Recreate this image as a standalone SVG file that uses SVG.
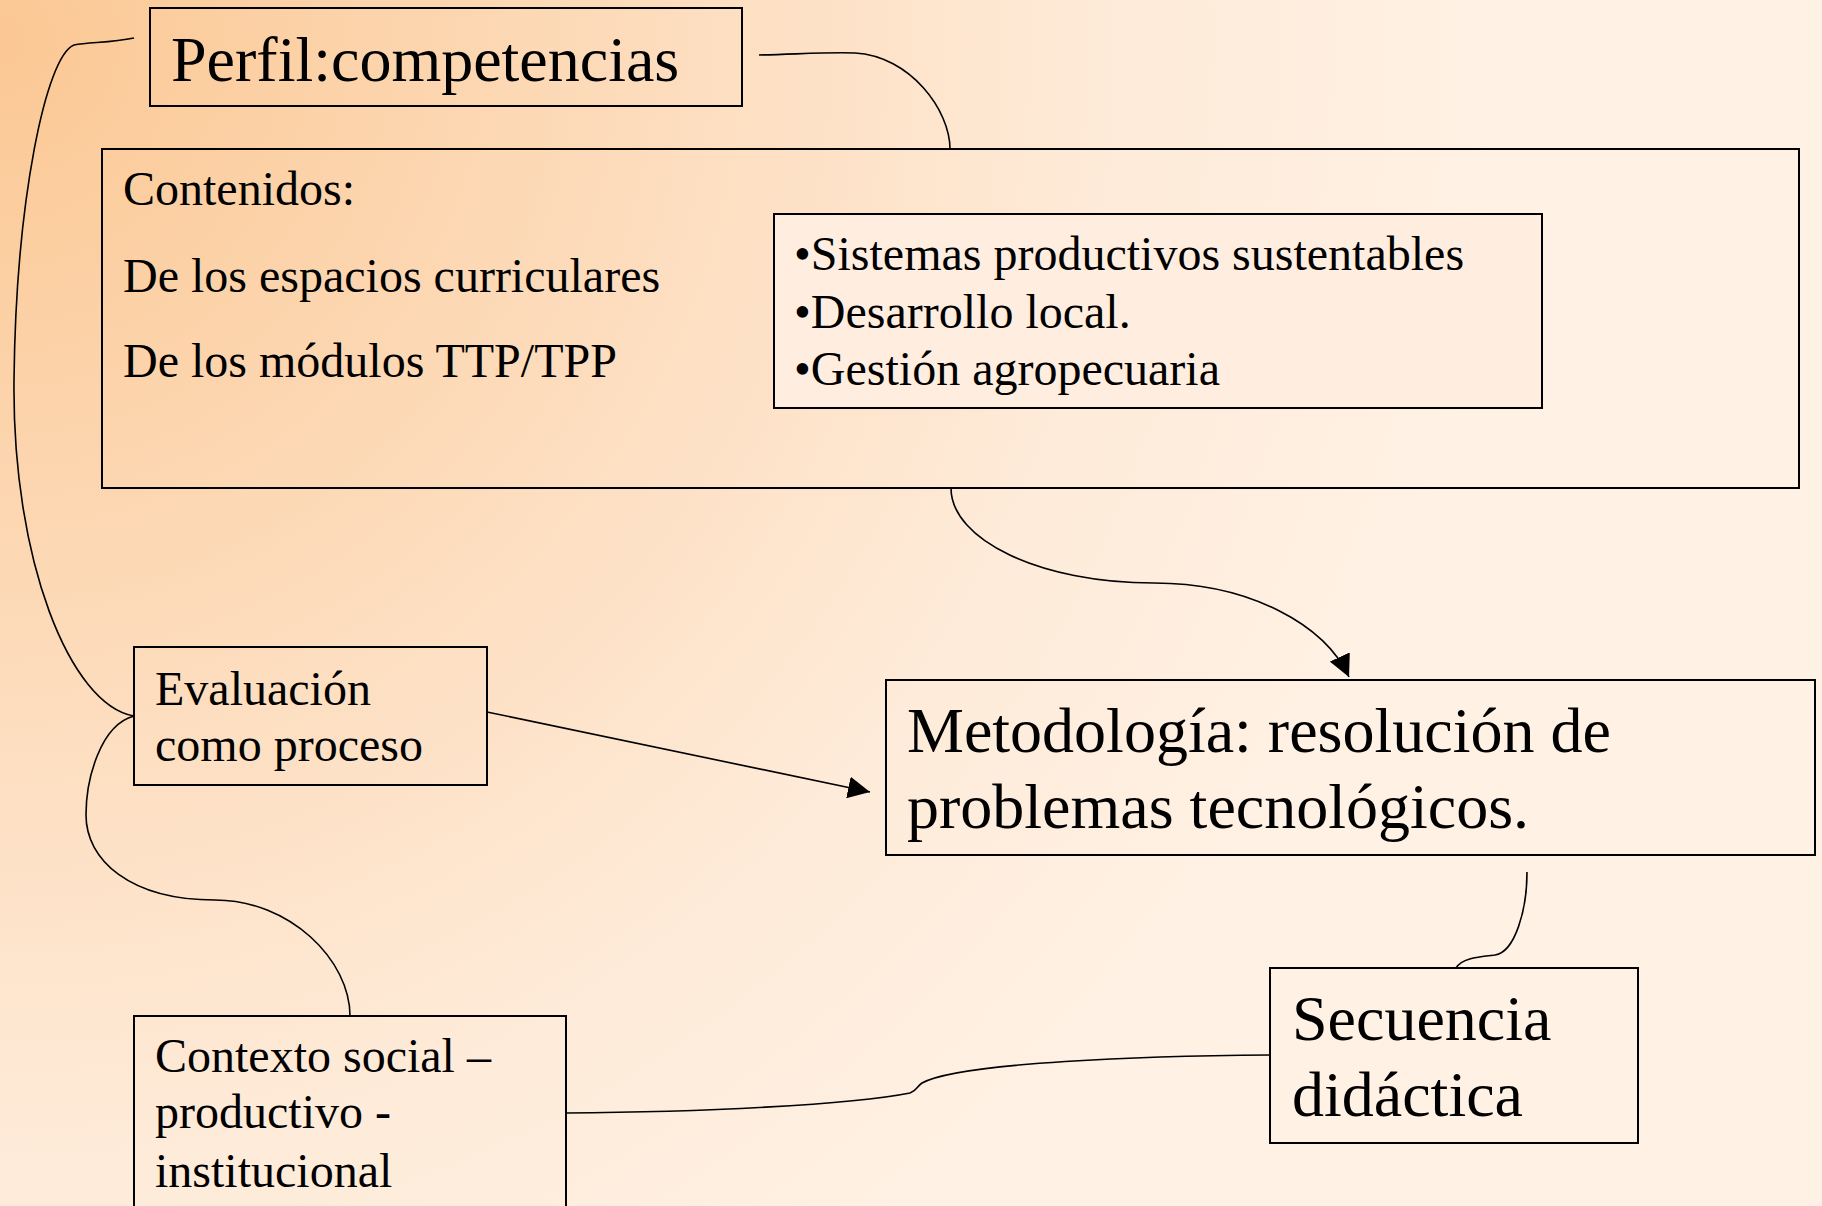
<svg xmlns="http://www.w3.org/2000/svg" width="1822" height="1206" viewBox="0 0 1822 1206">
<defs>
<radialGradient id="bg" gradientUnits="userSpaceOnUse" cx="0" cy="40" r="1500">
<stop offset="0" stop-color="#FBC894"/>
<stop offset="0.45" stop-color="#FDDDBE"/>
<stop offset="0.75" stop-color="#FEEBD9"/>
<stop offset="1" stop-color="#FFF1E4"/>
</radialGradient>
<marker id="arr" viewBox="0 0 10 10" refX="10" refY="5" markerWidth="22" markerHeight="22" markerUnits="userSpaceOnUse" orient="auto">
<path d="M0,0 L10,5 L0,10 z" fill="#000"/>
</marker>
</defs>
<style>
.box{fill:none;stroke:#000;stroke-width:2}
.t{font-family:"Liberation Serif","Times New Roman",serif;fill:#000}
.s48{font-size:48px}
.s64{font-size:64px}
.c{fill:none;stroke:#000;stroke-width:1.6}
</style>
<rect x="0" y="0" width="1822" height="1206" fill="url(#bg)"/>

<g id="connectors">
<path class="c" d="M134 38 C110 43 90 42 74 45 C46 56 16 200 14 380 C12 560 70 705 134 716"/>
<path class="c" d="M134 716 C100 725 86 780 86 815 C86 860 130 900 215 900 C290 900 350 960 350 1016"/>
<path class="c" d="M759 55 C800 54 830 52 855 53 C910 56 950 110 950 149"/>
<path class="c" d="M951 488 C951 540 1040 583 1154 583 C1250 583 1325 625 1349 677" marker-end="url(#arr)"/>
<path class="c" d="M487 712 L870 792" marker-end="url(#arr)"/>
<path class="c" d="M1527 872 C1527 910 1515 952 1495 955 C1478 957 1462 958 1456 968"/>
<path class="c" d="M566 1113 C700 1112 850 1105 910 1093 C918 1090 916 1087 922 1083 C960 1062 1150 1056 1270 1055"/>
</g>

<g id="perfil">
<rect class="box" x="150" y="8" width="592" height="98"/>
<text class="t s64" x="171" y="81">Perfil:competencias</text>
</g>

<g id="contenidos">
<rect class="box" x="102" y="149" width="1697" height="339"/>
<text class="t s48" x="123" y="205">Contenidos:</text>
<text class="t s48" x="123" y="292">De los espacios curriculares</text>
<text class="t s48" x="123" y="377">De los módulos TTP/TPP</text>
</g>

<g id="temas">
<rect class="box" x="774" y="214" width="768" height="194" fill="#FFEEDF" style="fill:#FFEEDF"/>
<text class="t s48" x="794" y="270">•Sistemas productivos sustentables</text>
<text class="t s48" x="794" y="328">•Desarrollo local.</text>
<text class="t s48" x="794" y="385">•Gestión agropecuaria</text>
</g>

<g id="evaluacion">
<rect class="box" x="134" y="647" width="353" height="138"/>
<text class="t s48" x="155" y="705">Evaluación</text>
<text class="t s48" x="155" y="761">como proceso</text>
</g>

<g id="metodologia">
<rect class="box" x="886" y="680" width="929" height="175"/>
<text class="t s64" x="907" y="752">Metodología: resolución de</text>
<text class="t s64" x="907" y="828">problemas tecnológicos.</text>
</g>

<g id="secuencia">
<rect class="box" x="1270" y="968" width="368" height="175"/>
<text class="t s64" x="1292" y="1040">Secuencia</text>
<text class="t s64" x="1292" y="1116">didáctica</text>
</g>

<g id="contexto">
<rect class="box" x="134" y="1016" width="432" height="220"/>
<text class="t s48" x="155" y="1072">Contexto social –</text>
<text class="t s48" x="155" y="1128">productivo -</text>
<text class="t s48" x="155" y="1187">institucional</text>
</g>
</svg>
